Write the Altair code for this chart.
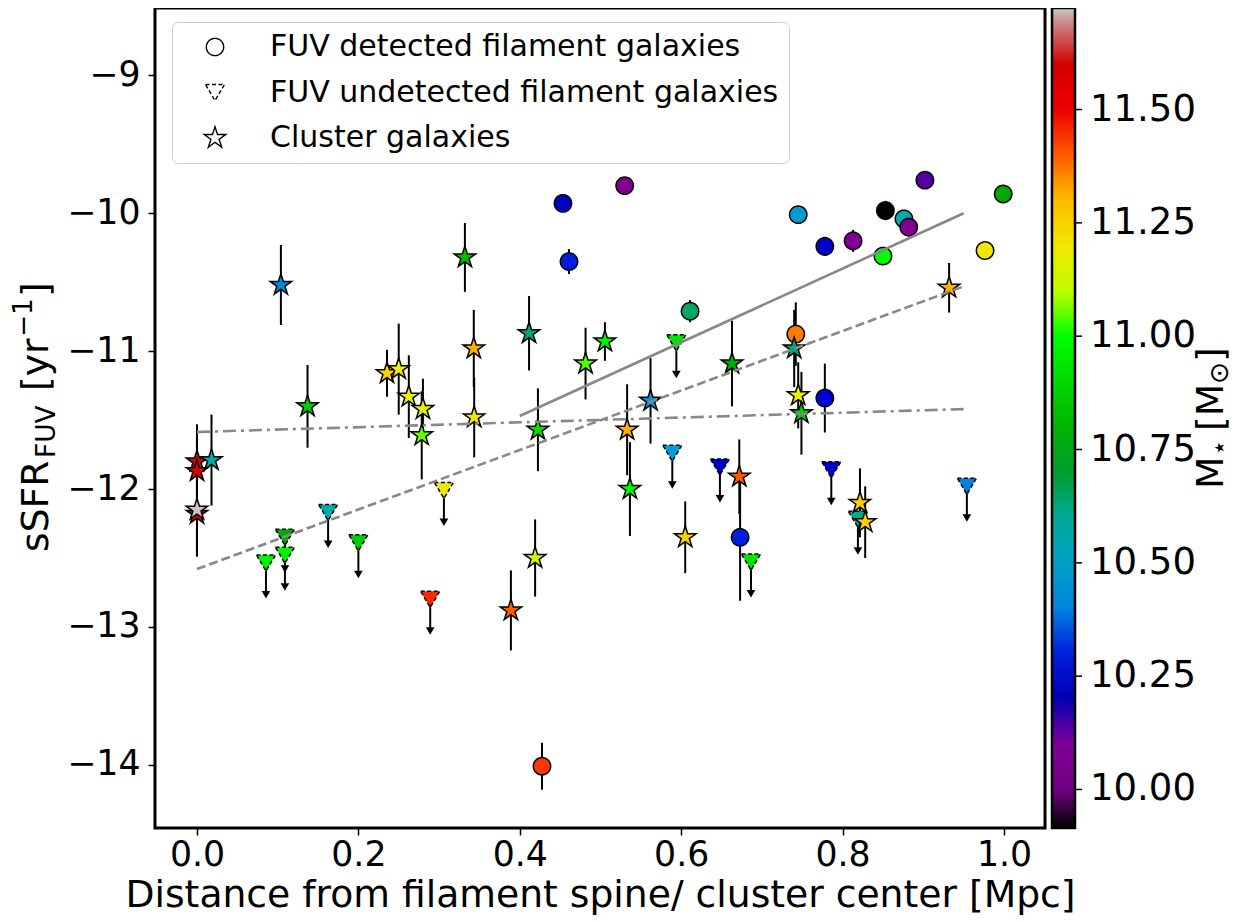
import altair as alt
import pandas as pd

# ---------------- data ----------------
# FUV detected filament galaxies (circles)
c_x = [0.4535, 0.461, 0.530, 0.611, 0.745, 0.778, 0.813, 0.853, 0.876, 0.882,
       0.850, 0.902, 0.999, 0.9765, 0.742, 0.778, 0.673, 0.4275]
c_y = [-9.928, -10.35, -9.80, -10.71, -10.01, -10.24, -10.20, -9.98, -10.04, -10.10,
       -10.31, -9.76, -9.86, -10.27, -10.876, -11.34, -12.35, -14.01]
c_err = [0.05, 0.09, 0.03, 0.08, 0.03, 0.07, 0.08, 0.07, 0.04, 0.07,
         0.04, 0.03, 0.03, 0.03, 0.23, 0.25, 0.46, 0.17]
c_m = [10.22, 10.30, 10.03, 10.66, 10.48, 10.25, 10.05, 9.92, 10.55, 10.06,
       11.00, 10.13, 10.77, 11.20, 11.38, 10.27, 10.30, 11.42]

# FUV undetected filament galaxies (upper limits, triangles)
t_x = [0.0855, 0.109, 0.109, 0.1625, 0.200, 0.306, 0.289, 0.594, 0.589, 0.648,
       0.786, 0.6865, 0.819, 0.954]
t_y = [-12.536, -12.35, -12.48, -12.17, -12.39, -12.01, -12.80, -10.94, -11.74, -11.84,
       -11.86, -12.53, -12.22, -11.98]
t_m = [10.97, 10.78, 10.97, 10.56, 10.87, 11.20, 11.43, 10.93, 10.47, 10.25,
       10.25, 10.93, 10.64, 10.40]
upper_limit_len = 0.23

# Cluster galaxies (stars)
s_x = [0.0, 0.0, 0.0, 0.0, 0.018, 0.104, 0.137, 0.332, 0.2355, 0.250,
       0.2625, 0.280, 0.2785, 0.343, 0.3435, 0.4115, 0.4225, 0.4815, 0.5055, 0.419,
       0.389, 0.533, 0.5365, 0.562, 0.605, 0.663, 0.672, 0.740, 0.745, 0.749,
       0.8215, 0.828, 0.932]
s_y = [-11.80, -11.87, -12.18, -12.15, -11.79, -10.52, -11.40, -10.32, -11.16, -11.13,
       -11.33, -11.42, -11.61, -10.98, -11.48, -10.87, -11.57, -11.09, -10.93, -12.50,
       -12.88, -11.57, -12.00, -11.36, -12.35, -11.09, -11.91, -10.98, -11.32, -11.45,
       -12.10, -12.24, -10.54]
s_err = [0.27, 0.30, 0.30, 0.34, 0.33, 0.29, 0.30, 0.25, 0.17, 0.33,
         0.30, 0.22, 0.32, 0.28, 0.29, 0.27, 0.30, 0.26, 0.14, 0.28,
         0.29, 0.33, 0.34, 0.31, 0.26, 0.31, 0.27, 0.28, 0.24, 0.30,
         0.25, 0.26, 0.18]
s_m = [11.54, 11.55, 11.55, 11.72, 10.56, 10.41, 10.86, 10.83, 11.25, 11.18,
       11.17, 11.16, 11.05, 11.32, 11.20, 10.65, 10.93, 11.04, 10.96, 11.12,
       11.40, 11.32, 10.98, 10.45, 11.26, 10.78, 11.40, 10.65, 11.18, 10.88,
       11.27, 11.27, 11.32]

# fitted relations (end points)
fit_solid_x = [0.40, 0.95]
fit_solid_y = [-11.47, -10.00]
fit_dash_x = [0.0, 0.95]
fit_dash_y = [-12.58, -10.53]
fit_dashdot_x = [0.0, 0.95]
fit_dashdot_y = [-11.586, -11.42]

TYPES = ["FUV detected filament galaxies", "FUV undetected filament galaxies", "Cluster galaxies"]
CB_TICKS = [10.00, 10.25, 10.50, 10.75, 11.00, 11.25, 11.50]
MASS_MIN, MASS_MAX = 9.915, 11.724

# nipy_spectral colour map stops
NIPY = ["#000000", "#770088", "#880099", "#0000aa", "#0000dd", "#0077dd", "#0099dd",
        "#00aaaa", "#00aa88", "#009900", "#00bb00", "#00dd00", "#00ff00", "#bbff00",
        "#eeee00", "#ffcc00", "#ff9900", "#ff0000", "#dd0000", "#cc0000", "#cccccc"]

STAR = ("M0,-1.3L0.2919,-0.4017L1.2363,-0.4017L0.4723,0.1534L0.7641,1.0517L0,0.4966"
        "L-0.7641,1.0517L-0.4723,0.1534L-1.2363,-0.4017L-0.2919,-0.4017Z")
TRI_DOWN = "M-1.1,-0.93L1.1,-0.93L0,0.93Z"

FONT = "DejaVu Sans"

# ---------------- tables ----------------
rows = []
for x, y, e, m in zip(c_x, c_y, c_err, c_m):
    rows.append(dict(kind=TYPES[0], x=x, y=y, lo=y - e, hi=y + e, m=m))
for x, y, m in zip(t_x, t_y, t_m):
    rows.append(dict(kind=TYPES[1], x=x, y=y, lo=y - upper_limit_len, hi=y, m=m))
for x, y, e, m in zip(s_x, s_y, s_err, s_m):
    rows.append(dict(kind=TYPES[2], x=x, y=y, lo=y - e, hi=y + e, m=m))
df = pd.DataFrame(rows)
df_up = df[df.kind == TYPES[1]]

xs = alt.Scale(domain=[-0.052, 1.0508], nice=False, zero=False)
ys = alt.Scale(domain=[-14.458, -8.5112], nice=False, zero=False)
ms = alt.Scale(domain=[MASS_MIN, MASS_MAX], nice=False, zero=False)

n = len(NIPY)
cdomain = [MASS_MIN + i * (MASS_MAX - MASS_MIN) / (n - 1) for i in range(n)]
cscale = alt.Scale(domain=cdomain, range=NIPY, interpolate="rgb", clamp=True)

xaxis = alt.Axis(values=[0.0, 0.2, 0.4, 0.6, 0.8, 1.0], format=".1f",
                 title="Distance from filament spine/ cluster center [Mpc]",
                 titleFontSize=37.7, titleFont=FONT, titleFontWeight="normal", titleColor="black",
                 labelFontSize=34.7, labelFont=FONT, labelColor="black",
                 tickSize=7, tickWidth=1.5, tickColor="black", domain=False, grid=False,
                 labelPadding=3, titlePadding=5, labelFlush=False)
yaxis = alt.Axis(values=[-9, -10, -11, -12, -13, -14], format="d", title=None,
                 labelExpr="replace(datum.label, '-', '\u2212')",
                 labelFontSize=34.7, labelFont=FONT, labelColor="black",
                 tickSize=7, tickWidth=1.5, tickColor="black", domain=False, grid=False,
                 labelPadding=8, labelFlush=False)

X = alt.X("x:Q", scale=xs)

err = alt.Chart(df).mark_rule(color="black", strokeWidth=2).encode(
    x=alt.X("x:Q", scale=xs, axis=xaxis),
    y=alt.Y("lo:Q", scale=ys, axis=yaxis),
    y2="hi:Q",
)

heads = alt.Chart(df_up).mark_point(shape="triangle-down", filled=True, color="black",
                                     size=75, opacity=1).encode(
    x=X, y=alt.Y("lo:Q", scale=ys))

sym_legend = alt.Legend(title=None, orient="none", legendX=17, legendY=14,
                        symbolFillColor="white", symbolStrokeColor="black",
                        symbolStrokeWidth=1.4, symbolSize=300, symbolOpacity=1,
                        labelFontSize=30, labelFont=FONT, labelColor="black", labelLimit=0,
                        rowPadding=15.5, padding=10, symbolOffset=18, labelOffset=40,
                        fillColor="white", strokeColor="#cccccc", cornerRadius=6)

cb_legend = alt.Legend(title=None, orient="none", legendX=897, legendY=0,
                       direction="vertical", gradientLength=820, gradientThickness=23,
                       gradientStrokeColor="black", gradientStrokeWidth=2.5,
                       values=CB_TICKS, format=".2f", labelFontSize=37, labelFont=FONT,
                       labelColor="black", labelOffset=15, labelOverlap=False, padding=0)

pts = alt.Chart(df).mark_point(filled=True, size=300, stroke="black", strokeWidth=1.5, opacity=1).encode(
    x=X,
    y=alt.Y("y:Q", scale=ys),
    fill=alt.Fill("m:Q", scale=cscale, legend=cb_legend),
    shape=alt.Shape("kind:N", scale=alt.Scale(domain=TYPES, range=["circle", TRI_DOWN, STAR]),
                    legend=sym_legend),
    strokeDash=alt.StrokeDash("kind:N", scale=alt.Scale(domain=TYPES, range=[[1, 0], [4, 2.5], [1, 0]]),
                              legend=sym_legend),
)


def fit_line(xv, yv, dash):
    d = pd.DataFrame({"x": xv, "y": yv})
    kw = dict(color="#888888", strokeWidth=2.6)
    if dash:
        kw["strokeDash"] = dash
    return alt.Chart(d).mark_line(**kw).encode(x=X, y=alt.Y("y:Q", scale=ys))


lines = [fit_line(fit_solid_x, fit_solid_y, None),
         fit_line(fit_dash_x, fit_dash_y, [9, 4]),
         fit_line(fit_dashdot_x, fit_dashdot_y, [13, 5, 3, 5])]

# colour-bar tick marks, placed through their own (mass) scale
cb_ticks = alt.Chart(pd.DataFrame({"m": CB_TICKS})).mark_rule(color="black", strokeWidth=1.5).encode(
    x=alt.value(920), x2=alt.value(927),
    y=alt.Y("m:Q", scale=ms, axis=None),
)

one = alt.Data(values=[{}])


def label(txt, x, y, size):
    return alt.Chart(one).mark_text(text=txt, angle=270, align="left", baseline="alphabetic",
                                    fontSize=size, font=FONT, color="black").encode(
        x=alt.value(x), y=alt.value(y))


ytitle = [label("sSFR", -107, 544, 37.7),
          label("FUV", -100, 450, 26.4),
          label("[yr", -107, 383, 37.7),
          label("\u22121", -123, 329, 26.4),
          label("]", -107, 289, 37.7)]

cbtitle = [label("M", 1068, 481, 37.7),
           label("\u22c6", 1073, 448, 26.4),
           label("[M", 1068, 423, 37.7),
           label("\u2299", 1073, 376, 26.4),
           label("]", 1068, 354, 37.7)]

main = alt.layer(err, heads, pts, *lines)
chart = alt.layer(main, cb_ticks, *ytitle, *cbtitle).resolve_scale(y="independent").properties(
    width=890, height=820,
    autosize=alt.AutoSizeParams(type="none"),
    padding={"left": 147, "top": 0, "right": 190, "bottom": 90},
).configure(font=FONT).configure_view(stroke="black", strokeWidth=3)

chart.save("out.html", embed_options={"renderer": "svg", "actions": False})
